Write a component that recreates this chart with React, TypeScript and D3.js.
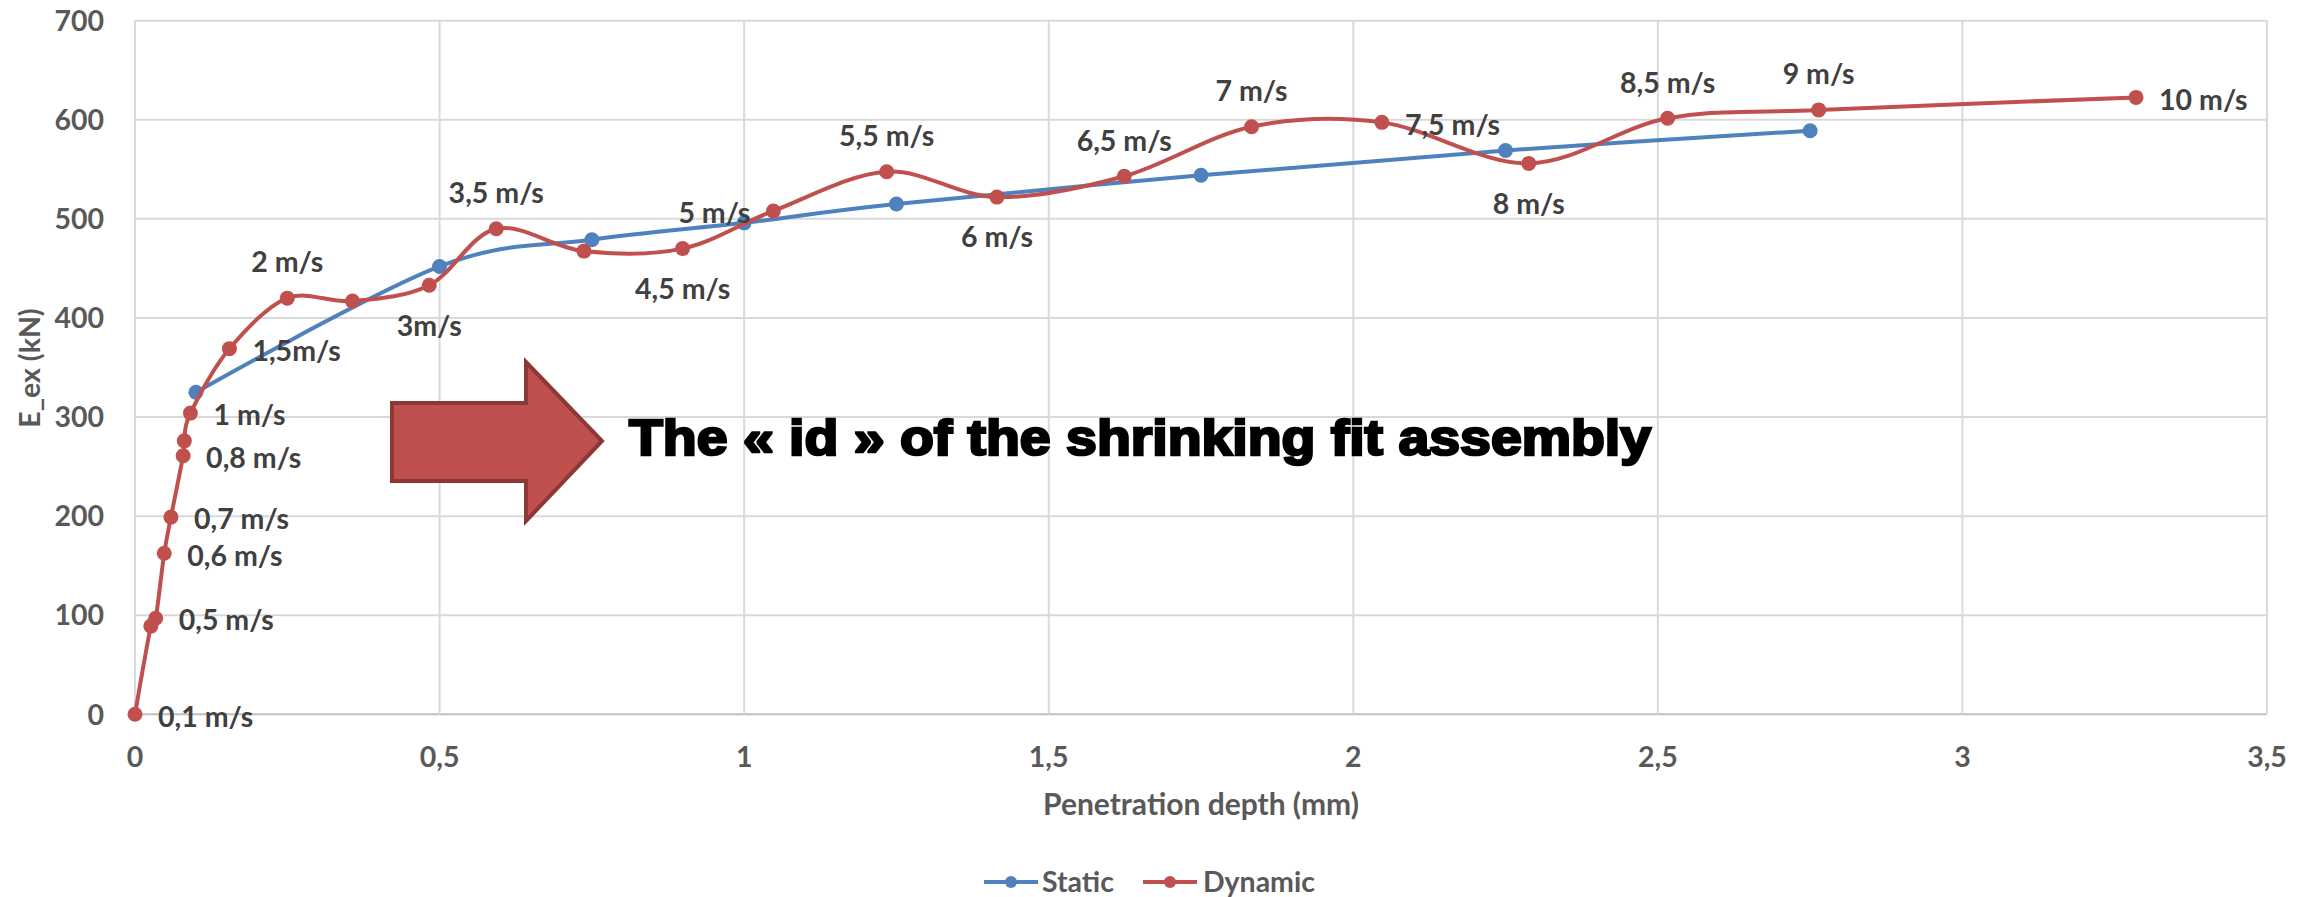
import React from "react";
import * as d3 from "d3";

const staticX = [0.1, 0.5, 0.75, 1.0, 1.25, 1.75, 2.25, 2.75];
const staticY = [325, 452, 479, 496, 515, 544, 569, 589];

const dynamicX = [0, 0.026, 0.034, 0.048, 0.059, 0.079, 0.081, 0.091, 0.155, 0.25, 0.357, 0.483, 0.593, 0.737, 0.899, 1.048, 1.234, 1.415, 1.624, 1.833, 2.047, 2.288, 2.516, 2.764, 3.285];
const dynamicY = [0, 89, 97, 162.5, 199, 261, 276, 304, 369, 420, 417, 433, 490, 467.5, 470, 508, 547.6, 522, 543, 593, 597.4, 556, 601.5, 610, 622.6];
const dynamicLabels = ["0,1 m/s", "", "0,5 m/s", "0,6 m/s", "0,7 m/s", "0,8 m/s", "", "1 m/s", "1,5m/s", "2 m/s", "", "3m/s", "3,5 m/s", "", "4,5 m/s", "5 m/s", "5,5 m/s", "6 m/s", "6,5 m/s", "7 m/s", "7,5 m/s", "8 m/s", "8,5 m/s", "9 m/s", "10 m/s"];
const dynamicLabelPlacement = ["r", "", "r", "r", "r", "r", "", "r", "r", "a", "", "b", "a", "", "b", "l", "a", "b", "a", "a", "r", "b", "a", "a", "r"];

const xTicks = [0, 0.5, 1, 1.5, 2, 2.5, 3, 3.5];
const yTicks = [0, 100, 200, 300, 400, 500, 600, 700];
const seriesNames = ["Static", "Dynamic"];
const xTitle = "Penetration depth (mm)";
const yTitle = "E_ex (kN)";
const annotation = "The « id » of the shrinking fit assembly";

const W = 2313;
const H = 897;
const BLUE = "#4F81BD";
const RED = "#C0504D";
const FONT = "Lato, 'Open Sans', sans-serif";
const FS = 28.5;

export default function App() {
  const x = d3.scaleLinear().domain([0, 3.5]).range([135, 2267]);
  const y = d3.scaleLinear().domain([0, 700]).range([714.3, 20.7]);
  const fmt = (v: number) => String(v).replace(".", ",");

  const line = d3
    .line<[number, number]>()
    .x((d) => x(d[0]))
    .y((d) => y(d[1]))
    .curve(d3.curveCatmullRom.alpha(0));

  const sPts: [number, number][] = staticX.map((v, i) => [v, staticY[i]]);
  const dPts: [number, number][] = dynamicX.map((v, i) => [v, dynamicY[i]]);

  const labelNode = (i: number) => {
    const t = dynamicLabels[i];
    if (!t) return null;
    const px = x(dynamicX[i]);
    const py = y(dynamicY[i]);
    const p = dynamicLabelPlacement[i];
    let tx = px;
    let cy = py;
    let anchor: "start" | "middle" | "end" = "middle";
    if (p === "r") { tx = px + 23; cy = py + 2; anchor = "start"; }
    else if (p === "l") { tx = px - 23; cy = py + 2; anchor = "end"; }
    else if (p === "a") { cy = py - 36; }
    else if (p === "b") { cy = py + 40; }
    return (
      <text key={"l" + i} x={tx} y={cy + FS * 0.36} textAnchor={anchor} fontFamily={FONT} fontWeight={700} fontSize={FS} fill="#404040">
        {t}
      </text>
    );
  };

  const ax = { bl: 392, bt: 403, bb: 481, hb: 526, ht: 362, hbot: 521, tip: 602, tipy: 441 };
  const arrowPts = [
    [ax.bl, ax.bt], [ax.hb, ax.bt], [ax.hb, ax.ht], [ax.tip, ax.tipy], [ax.hb, ax.hbot], [ax.hb, ax.bb], [ax.bl, ax.bb],
  ].map((p) => p.join(",")).join(" ");

  return (
    <svg width={W} height={H} style={{ position: "absolute", left: 0, top: 0, background: "#fff" }}>
      <rect x={0} y={0} width={W} height={H} fill="#fff" />
      {yTicks.map((t) => (
        <line key={"gy" + t} x1={x(0)} x2={x(3.5)} y1={y(t)} y2={y(t)} stroke={t === 0 ? "#BFBFBF" : "#D9D9D9"} strokeWidth={2} />
      ))}
      {xTicks.map((t) => (
        <line key={"gx" + t} x1={x(t)} x2={x(t)} y1={y(0)} y2={y(700)} stroke="#D9D9D9" strokeWidth={2} />
      ))}
      {yTicks.map((t) => (
        <text key={"ty" + t} x={104} y={y(t) + FS * 0.36} textAnchor="end" fontFamily={FONT} fontWeight={700} fontSize={FS} fill="#595959">
          {t}
        </text>
      ))}
      {xTicks.map((t) => (
        <text key={"tx" + t} x={x(t)} y={757 + FS * 0.36} textAnchor="middle" fontFamily={FONT} fontWeight={700} fontSize={FS} fill="#595959">
          {fmt(t)}
        </text>
      ))}
      <text x={1201} y={805 + FS * 0.36} textAnchor="middle" fontFamily={FONT} fontWeight={700} fontSize={30} fill="#595959">
        {xTitle}
      </text>
      <text transform={`translate(${30 + FS * 0.36},368) rotate(-90)`} textAnchor="middle" fontFamily={FONT} fontWeight={700} fontSize={FS} fill="#595959">
        {yTitle}
      </text>

      <path d={line(sPts) || ""} fill="none" stroke={BLUE} strokeWidth={4} strokeLinecap="round" />
      {sPts.map((p, i) => (
        <circle key={"sp" + i} cx={x(p[0])} cy={y(p[1])} r={7.5} fill={BLUE} />
      ))}
      <path d={line(dPts) || ""} fill="none" stroke={RED} strokeWidth={4} strokeLinecap="round" />
      {dPts.map((p, i) => (
        <circle key={"dp" + i} cx={x(p[0])} cy={y(p[1])} r={7.5} fill={RED} />
      ))}
      {dynamicX.map((_, i) => labelNode(i))}

      <polygon points={arrowPts} fill={RED} stroke="#8C3836" strokeWidth={4} strokeLinejoin="miter" />
      <text x={629} y={455} fontFamily="'Liberation Sans', Arial, sans-serif" fontWeight={900} fontSize={50} fill="#000" stroke="#000" strokeWidth={2.5} textLength={1022} lengthAdjust="spacingAndGlyphs">
        {annotation}
      </text>

      {[0, 1].map((i) => {
        const lx = i === 0 ? 984 : 1143;
        const tx = i === 0 ? 1042 : 1203;
        const c = i === 0 ? BLUE : RED;
        return (
          <g key={"lg" + i}>
            <line x1={lx} x2={lx + 54} y1={882} y2={882} stroke={c} strokeWidth={4} />
            <circle cx={lx + 27} cy={882} r={6} fill={c} />
            <text x={tx} y={882 + FS * 0.36} fontFamily={FONT} fontWeight={700} fontSize={FS} fill="#595959">
              {seriesNames[i]}
            </text>
          </g>
        );
      })}
    </svg>
  );
}
